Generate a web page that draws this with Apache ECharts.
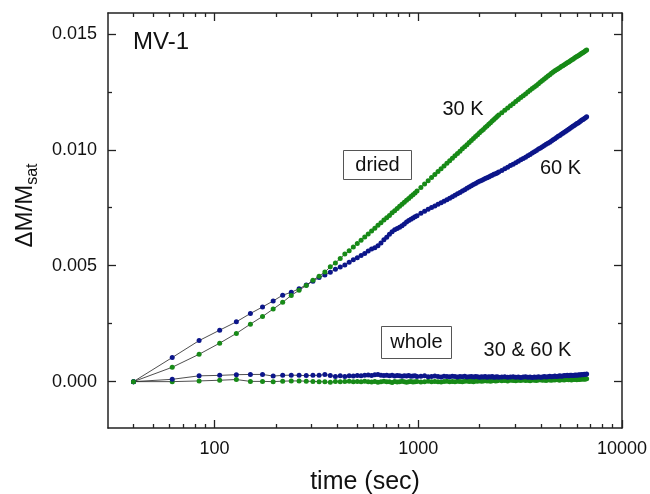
<!DOCTYPE html>
<html>
<head>
<meta charset="utf-8">
<script src="https://cdn.jsdelivr.net/npm/echarts@6/dist/echarts.min.js"></script>
<style>
html,body{margin:0;padding:0;background:#fff;}
#c{width:650px;height:494px;}
</style>
</head>
<body>
<div id="c"></div>
<script>
// time (sec) of each measurement, shared by all four curves
const times = [
  40, 62, 84, 106, 128, 150, 172, 194, 216, 238,
  260, 282, 304, 326, 348, 370, 392, 414, 436, 458,
  480, 502, 524, 546, 568, 590, 612, 634, 656, 678,
  700, 722, 744, 766, 788, 810, 832, 854, 876, 898,
  920, 942, 964, 986,
  1030, 1074, 1118, 1162, 1206, 1250, 1294, 1338, 1382, 1426,
  1470, 1514, 1558, 1602, 1646, 1690, 1734, 1778, 1822, 1866,
  1910, 1954, 1998, 2042, 2086, 2130, 2174, 2218, 2262, 2306,
  2350, 2394, 2438, 2482,
  2570, 2658, 2746, 2834, 2922, 3010, 3098, 3186, 3274, 3362,
  3450, 3538, 3626, 3714, 3802, 3890, 3978, 4066, 4154, 4242,
  4330, 4418, 4506, 4594, 4682, 4770, 4858, 4946, 5034, 5122,
  5210, 5298, 5386, 5474, 5562, 5650, 5738, 5826, 5914, 6002,
  6090, 6178, 6266, 6354, 6442, 6530, 6618, 6706
];
// ΔM/Msat values, in units of 1e-3
const dried30K = [
  0, 0.62, 1.18, 1.66, 2.08, 2.48, 2.81, 3.13, 3.42, 3.72,
  3.94, 4.15, 4.37, 4.55, 4.73, 4.95, 5.12, 5.31, 5.50, 5.64,
  5.81, 5.96, 6.10, 6.24, 6.37, 6.50, 6.62, 6.74, 6.85, 6.97,
  7.07, 7.17, 7.28, 7.37, 7.47, 7.56, 7.65, 7.74, 7.82, 7.90,
  7.99, 8.06, 8.14, 8.22,
  8.37, 8.52, 8.66, 8.80, 8.93, 9.06, 9.18, 9.30, 9.42, 9.53,
  9.64, 9.74, 9.84, 9.94, 10.04, 10.13, 10.22, 10.31, 10.40, 10.49,
  10.57, 10.65, 10.73, 10.81, 10.88, 10.96, 11.03, 11.10, 11.17, 11.24,
  11.31, 11.37, 11.44, 11.50,
  11.60, 11.70, 11.80, 11.90, 11.99, 12.08, 12.17, 12.25, 12.33, 12.41,
  12.49, 12.57, 12.64, 12.71, 12.77, 12.85, 12.92, 12.99, 13.05, 13.12,
  13.18, 13.24, 13.30, 13.36, 13.41, 13.45, 13.50, 13.54, 13.59, 13.63,
  13.67, 13.71, 13.75, 13.79, 13.83, 13.87, 13.91, 13.95, 13.99, 14.02,
  14.06, 14.09, 14.13, 14.16, 14.20, 14.23, 14.27, 14.30
];
const dried60K = [
  0, 1.04, 1.77, 2.22, 2.58, 2.94, 3.22, 3.48, 3.73, 3.85,
  4.01, 4.17, 4.33, 4.49, 4.60, 4.72, 4.85, 4.94, 5.03, 5.15,
  5.26, 5.34, 5.44, 5.53, 5.63, 5.72, 5.78, 5.86, 5.98, 6.12,
  6.23, 6.36, 6.47, 6.55, 6.61, 6.66, 6.72, 6.80, 6.89, 6.95,
  7.00, 7.06, 7.11, 7.16,
  7.26, 7.35, 7.44, 7.51, 7.58, 7.65, 7.72, 7.78, 7.85, 7.91,
  7.97, 8.04, 8.10, 8.16, 8.22, 8.28, 8.34, 8.39, 8.45, 8.50,
  8.55, 8.60, 8.64, 8.68, 8.72, 8.76, 8.79, 8.83, 8.87, 8.90,
  8.94, 8.97, 9.00, 9.04,
  9.11, 9.18, 9.25, 9.32, 9.38, 9.44, 9.51, 9.57, 9.62, 9.68,
  9.74, 9.80, 9.86, 9.92, 9.97, 10.03, 10.08, 10.13, 10.19, 10.24,
  10.28, 10.33, 10.38, 10.43, 10.48, 10.53, 10.58, 10.62, 10.67, 10.71,
  10.76, 10.80, 10.84, 10.89, 10.93, 10.97, 11.01, 11.05, 11.09, 11.13,
  11.16, 11.20, 11.24, 11.28, 11.31, 11.35, 11.38, 11.42
];
const whole60K = [
  0, 0.10, 0.25, 0.27, 0.30, 0.31, 0.31, 0.24, 0.27, 0.28,
  0.27, 0.26, 0.27, 0.27, 0.31, 0.26, 0.22, 0.25, 0.22, 0.25,
  0.24, 0.26, 0.25, 0.27, 0.29, 0.26, 0.30, 0.31, 0.28, 0.26,
  0.27, 0.25, 0.27, 0.24, 0.26, 0.25, 0.23, 0.25, 0.24, 0.26,
  0.23, 0.24, 0.25, 0.22,
  0.23, 0.25, 0.21, 0.22, 0.24, 0.22, 0.20, 0.23, 0.22, 0.21,
  0.23, 0.22, 0.20, 0.22, 0.21, 0.23, 0.20, 0.21, 0.22, 0.20,
  0.22, 0.21, 0.19, 0.21, 0.20, 0.22, 0.19, 0.21, 0.20, 0.22,
  0.19, 0.20, 0.21, 0.19,
  0.20, 0.21, 0.19, 0.20, 0.21, 0.19, 0.20, 0.18, 0.20, 0.21,
  0.19, 0.20, 0.18, 0.20, 0.19, 0.21, 0.19, 0.20, 0.22, 0.20,
  0.21, 0.23, 0.21, 0.22, 0.24, 0.22, 0.23, 0.25, 0.23, 0.24,
  0.26, 0.25, 0.27, 0.25, 0.27, 0.28, 0.26, 0.28, 0.29, 0.27,
  0.29, 0.30, 0.29, 0.31, 0.30, 0.32, 0.31, 0.33
];
const whole30K = [
  0, 0.00, 0.03, 0.06, 0.09, 0.01, 0.01, 0.00, 0.02, 0.03,
  0.03, 0.02, 0.01, 0.00, -0.01, -0.03, 0.01, 0.00, 0.01, 0.02,
  0.00, 0.01, -0.01, 0.02, 0.00, -0.02, 0.01, -0.03, 0.00, 0.02,
  -0.01, 0.00, -0.04, 0.01, -0.02, 0.00, 0.02, -0.01, -0.03, 0.00,
  0.01, -0.02, 0.00, 0.01,
  -0.02, 0.00, 0.02, -0.01, 0.01, 0.00, -0.02, 0.01, 0.02, 0.00,
  0.01, -0.01, 0.02, 0.01, 0.00, 0.02, 0.03, 0.01, 0.02, 0.00,
  0.03, 0.02, 0.04, 0.02, 0.03, 0.05, 0.03, 0.04, 0.02, 0.04,
  0.05, 0.03, 0.04, 0.06,
  0.04, 0.05, 0.03, 0.06, 0.05, 0.04, 0.06, 0.05, 0.07, 0.05,
  0.06, 0.04, 0.07, 0.06, 0.05, 0.07, 0.08, 0.06, 0.07, 0.05,
  0.08, 0.07, 0.06, 0.08, 0.07, 0.09, 0.08, 0.06, 0.09, 0.08,
  0.07, 0.09, 0.10, 0.08, 0.09, 0.07, 0.10, 0.09, 0.11, 0.08,
  0.10, 0.09, 0.11, 0.10, 0.12, 0.10, 0.11, 0.12
];
// axis ticks / labels
const xMajor = [100, 1000, 10000];
const xMinor = [40, 50, 60, 70, 80, 90, 200, 300, 400, 500, 600, 700, 800, 900,
                2000, 3000, 4000, 5000, 6000, 7000, 8000, 9000];
const yMajor = [0, 0.005, 0.010, 0.015];
const yMinor = [0.0025, 0.0075, 0.0125];

const GREEN = '#178a17';
const BLUE = '#0c168a';
const FONT = '"Liberation Sans", Arial, sans-serif';

function pairs(vals) {
  return times.map((t, i) => [t, vals[i] / 1000]);
}

const axisLineStyle = { color: '#222', width: 1.5 };

function xAx(pos, ticks, len, labels, showLine) {
  return {
    type: 'log', logBase: 10, position: pos, min: 30, max: 10000,
    axisLine: { show: showLine, onZero: false, lineStyle: axisLineStyle },
    axisTick: { show: true, inside: true, length: len, customValues: ticks, lineStyle: { color: '#222', width: 1.3 } },
    axisLabel: labels ? {
      show: true, customValues: ticks, margin: 12, fontSize: 18, color: '#111', fontFamily: FONT,
      formatter: v => String(Math.round(v))
    } : { show: false },
    splitLine: { show: false }, minorTick: { show: false }
  };
}
function yAx(pos, ticks, len, labels, showLine) {
  return {
    type: 'value', position: pos, min: -0.002, max: 0.0159,
    axisLine: { show: showLine, onZero: false, lineStyle: axisLineStyle },
    axisTick: { show: true, inside: true, length: len, customValues: ticks, lineStyle: { color: '#222', width: 1.3 } },
    axisLabel: labels ? {
      show: true, customValues: ticks, margin: 11, fontSize: 18, color: '#111', fontFamily: FONT,
      formatter: v => v.toFixed(3)
    } : { show: false },
    splitLine: { show: false }
  };
}

const xAxes = [xAx('bottom', xMajor, 8, true, true), xAx('bottom', xMinor, 4, false, false),
               xAx('top', xMajor, 8, false, true), xAx('top', xMinor, 4, false, false)];
xAxes[0].name = 'time (sec)';
xAxes[0].nameLocation = 'middle';
xAxes[0].nameGap = 42;
xAxes[0].nameTextStyle = { fontSize: 25, color: '#111', fontFamily: FONT };

const yAxes = [yAx('left', yMajor, 8, true, true), yAx('left', yMinor, 4, false, false),
               yAx('right', yMajor, 8, false, true), yAx('right', yMinor, 4, false, false)];
yAxes[0].name = '{m|ΔM/M}{s|sat}';
yAxes[0].nameLocation = 'middle';
yAxes[0].nameGap = 66;
yAxes[0].nameTextStyle = {
  fontSize: 24, color: '#111', fontFamily: FONT, padding: [0, 0, 0, 30],
  rich: { m: { fontSize: 24, fontFamily: FONT, color: '#111' },
          s: { fontSize: 16, fontFamily: FONT, color: '#111', padding: [16, 0, 0, 0] } }
};

function ser(name, vals, color) {
  return {
    name, type: 'line', xAxisIndex: 0, yAxisIndex: 0, data: pairs(vals),
    symbol: 'circle', symbolSize: 5, showSymbol: true,
    itemStyle: { color: color },
    lineStyle: { color: '#222', width: 0.8 },
    emphasis: { disabled: true }, animation: false
  };
}

const chart = echarts.init(document.getElementById('c'), null, { renderer: 'canvas' });
chart.setOption({
  backgroundColor: '#fff',
  animation: false,
  grid: { left: 108, right: 28, top: 13, bottom: 66, containLabel: false, outerBoundsMode: 'none' },
  xAxis: xAxes,
  yAxis: yAxes,
  series: [
    ser('whole 30 K', whole30K, GREEN),
    ser('whole 60 K', whole60K, BLUE),
    ser('dried 60 K', dried60K, BLUE),
    ser('dried 30 K', dried30K, GREEN)
  ],
  graphic: [
    { type: 'text', left: 133, top: 30, style: { text: 'MV-1', fontSize: 24, fill: '#111', fontFamily: FONT } },
    { type: 'rect', shape: { x: 343.5, y: 150.5, width: 68, height: 29 }, style: { fill: '#fff', stroke: '#555', lineWidth: 1 } },
    { type: 'text', x: 377.5, y: 165.5, style: { text: 'dried', fontSize: 20, fill: '#111', fontFamily: FONT, align: 'center', verticalAlign: 'middle' } },
    { type: 'rect', shape: { x: 381.5, y: 326.5, width: 70, height: 32 }, style: { fill: '#fff', stroke: '#555', lineWidth: 1 } },
    { type: 'text', x: 416.5, y: 342.5, style: { text: 'whole', fontSize: 20, fill: '#111', fontFamily: FONT, align: 'center', verticalAlign: 'middle' } },
    { type: 'text', x: 463, y: 109.5, style: { text: '30 K', fontSize: 20, fill: '#111', fontFamily: FONT, align: 'center', verticalAlign: 'middle' } },
    { type: 'text', x: 560.5, y: 168, style: { text: '60 K', fontSize: 20, fill: '#111', fontFamily: FONT, align: 'center', verticalAlign: 'middle' } },
    { type: 'text', x: 527.5, y: 350, style: { text: '30 & 60 K', fontSize: 20, fill: '#111', fontFamily: FONT, align: 'center', verticalAlign: 'middle' } }
  ]
});
</script>
</body>
</html>
